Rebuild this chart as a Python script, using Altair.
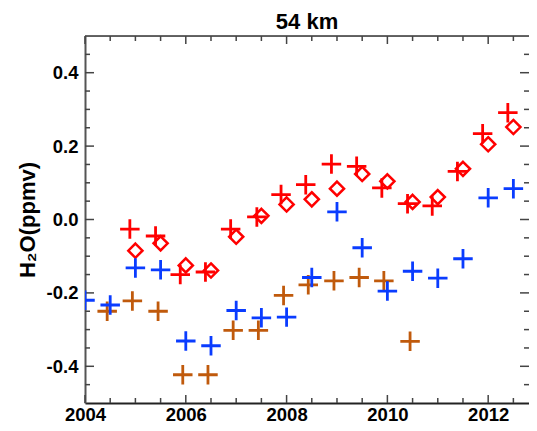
import altair as alt
import pandas as pd

# ---- data ----
red_plus_x = [2004.89, 2005.40, 2005.89, 2006.39, 2006.89, 2007.41, 2007.89, 2008.38,
              2008.89, 2009.39, 2009.89, 2010.40, 2010.89, 2011.39, 2011.89, 2012.39]
red_plus_y = [-0.026, -0.045, -0.150, -0.143, -0.026, 0.007, 0.068, 0.095,
              0.151, 0.145, 0.086, 0.043, 0.037, 0.131, 0.234, 0.291]

red_diamond_x = [2005.0, 2005.5, 2006.0, 2006.5, 2007.0, 2007.5, 2008.0, 2008.5,
                 2009.0, 2009.5, 2010.0, 2010.5, 2011.0, 2011.5, 2012.0, 2012.5]
red_diamond_y = [-0.085, -0.065, -0.125, -0.139, -0.047, 0.010, 0.041, 0.055,
                 0.084, 0.124, 0.104, 0.048, 0.061, 0.138, 0.205, 0.252]

blue_x = [2004.0, 2004.5, 2005.0, 2005.5, 2006.0, 2006.5, 2007.0, 2007.5, 2008.0,
          2008.5, 2009.0, 2009.5, 2010.0, 2010.5, 2011.0, 2011.5, 2012.0, 2012.5]
blue_y = [-0.220, -0.233, -0.132, -0.137, -0.331, -0.344, -0.248, -0.268, -0.266,
          -0.158, 0.021, -0.077, -0.195, -0.141, -0.160, -0.107, 0.059, 0.084]

orange_x = [2004.44, 2004.94, 2005.45, 2005.94, 2006.44, 2006.94, 2007.44,
            2007.94, 2008.43, 2008.94, 2009.44, 2009.93, 2010.45]
orange_y = [-0.250, -0.222, -0.250, -0.423, -0.423, -0.302, -0.302,
            -0.207, -0.178, -0.167, -0.158, -0.167, -0.332]

x_major = [2004, 2006, 2008, 2010, 2012]
x_minor = [2004.5, 2005, 2005.5, 2006.5, 2007, 2007.5, 2008.5, 2009, 2009.5,
           2010.5, 2011, 2011.5, 2012.5]
y_major = [-0.4, -0.2, 0.0, 0.2, 0.4]
y_minor = [-0.45, -0.35, -0.3, -0.25, -0.15, -0.1, -0.05,
           0.05, 0.1, 0.15, 0.25, 0.3, 0.35, 0.45]

series_names = ["orange_plus", "blue_plus", "red_plus"]
series_colors = ["#C05A0C", "#0A3CFF", "#FF0000"]

# ---- tables ----
plus_df = pd.concat([
    pd.DataFrame({"year": orange_x, "value": orange_y, "series": "orange_plus"}),
    pd.DataFrame({"year": blue_x, "value": blue_y, "series": "blue_plus"}),
    pd.DataFrame({"year": red_plus_x, "value": red_plus_y, "series": "red_plus"}),
], ignore_index=True)
plus_df["order"] = range(len(plus_df))
diamond_df = pd.DataFrame({"year": red_diamond_x, "value": red_diamond_y})

W, H = 444, 367
FONT = "Liberation Sans"

xscale = alt.Scale(domain=[2004, 2012.81], nice=False, zero=False)
yscale = alt.Scale(domain=[-0.5, 0.5], nice=False, zero=False)

xaxis = alt.Axis(values=x_major, format="d", tickSize=0, labelFontSize=18.5,
                 labelFont=FONT, labelFontWeight="bold", labelColor="black",
                 labelPadding=2, labelFlush=False, domainColor="#222",
                 domainWidth=2, grid=False)
yaxis = alt.Axis(values=y_major,
                 labelExpr="replace(format(datum.value, '.1f'), '\u2212', '-')",
                 tickSize=0, labelFontSize=18.5, labelFont=FONT,
                 labelFontWeight="bold", labelColor="black", labelPadding=7,
                 domainColor="#555", domainWidth=2, grid=False,
                 titleFont=FONT, titleFontSize=22, titleFontWeight="bold",
                 titleColor="black", titlePadding=7)

X = alt.X("year:Q", scale=xscale, axis=xaxis, title=None)
Y = alt.Y("value:Q", scale=yscale, axis=yaxis, title="H\u2082O(ppmv)")

PLUS = "M-1,0L1,0M0,-1L0,1"
DIAMOND = "M0,-1L1,0L0,1L-1,0Z"

tick_color = "#444"

def ytick_layer(vals, length, right):
    x0 = W if right else 0
    x1 = W - length if right else length
    return alt.Chart(pd.DataFrame({"value": vals})).mark_rule(
        color=tick_color, strokeWidth=1.5).encode(
        y=Y, x=alt.value(x0), x2=alt.value(x1))

def xtick_layer(vals, length, top):
    y0 = 0 if top else H
    y1 = length if top else H - length
    return alt.Chart(pd.DataFrame({"year": vals})).mark_rule(
        color=tick_color, strokeWidth=1.5).encode(
        x=X, y=alt.value(y0), y2=alt.value(y1))

ticks = [
    ytick_layer(y_major, 9, False), ytick_layer(y_minor, 5, False),
    ytick_layer(y_major, 9, True), ytick_layer(y_minor, 5, True),
    xtick_layer(x_major, 8, False), xtick_layer(x_minor, 5, False),
    xtick_layer(x_major, 8, True), xtick_layer(x_minor, 5, True),
]

# top frame line (the right frame edge lies beyond the visible page)
top_line = alt.Chart(pd.DataFrame({"v": [0]})).mark_rule(
    color="#333", strokeWidth=1.5).encode(
    x=alt.value(0), x2=alt.value(W), y=alt.value(0))

diamonds = alt.Chart(diamond_df).mark_point(
    shape=DIAMOND, filled=False, color="#FF0000", strokeWidth=2.5,
    size=200, opacity=1, clip=True).encode(x=X, y=Y)

pluses = alt.Chart(plus_df).mark_point(
    shape=PLUS, filled=False, strokeWidth=2.8, size=380, opacity=1,
    clip=True).encode(
    x=X, y=Y,
    color=alt.Color("series:N",
                    scale=alt.Scale(domain=series_names, range=series_colors),
                    legend=None),
    order=alt.Order("order:Q"))

chart = alt.layer(top_line, *ticks, diamonds, pluses).properties(
    width=W, height=H,
    title=alt.TitleParams("54 km", fontSize=22, fontWeight="bold", font=FONT,
                          color="black", anchor="middle", frame="group",
                          offset=1),
    autosize=alt.AutoSizeParams(type="none"),
    padding={"left": 77, "top": 28, "right": 0, "bottom": 20},
).configure_view(strokeWidth=0).configure(background="white")

chart.save("out.html", embed_options={"renderer": "svg", "actions": False})
